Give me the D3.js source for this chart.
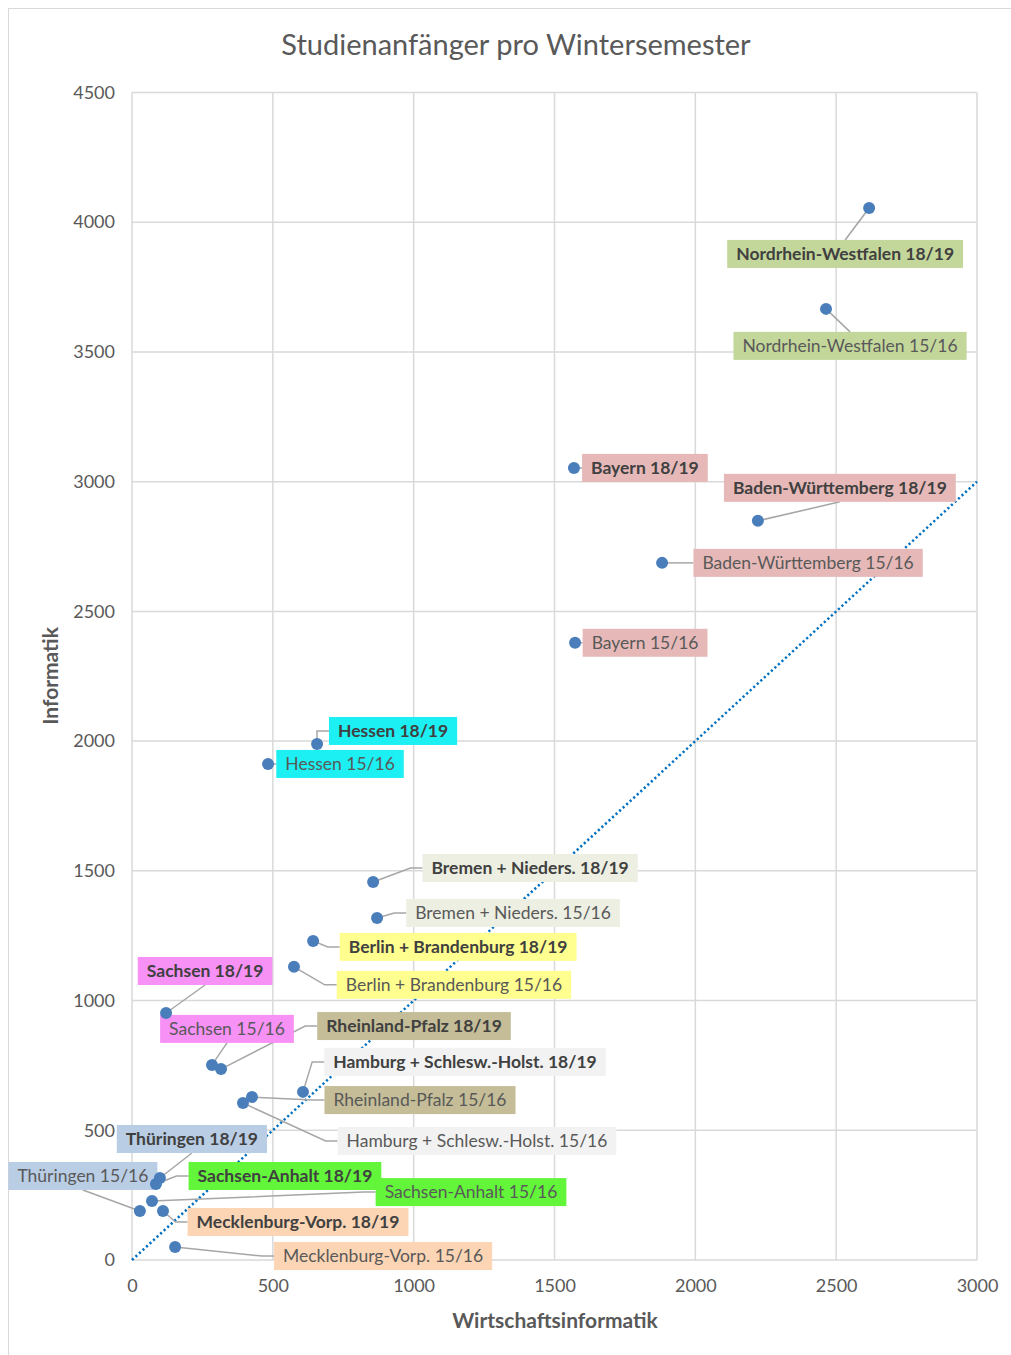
<!DOCTYPE html>
<html>
<head>
<meta charset="utf-8">
<script src="https://cdn.jsdelivr.net/npm/d3@7"></script>
<style>
  body { margin: 0; background: #fff; }
  svg { display: block; font-family: Lato, "Open Sans", sans-serif; }
</style>
</head>
<body>
<div class="visHolder"></div>
<script>
// data
const names = [
  'Nordrhein-Westfalen 18/19', 'Nordrhein-Westfalen 15/16',
  'Bayern 18/19', 'Baden-Württemberg 18/19', 'Baden-Württemberg 15/16', 'Bayern 15/16',
  'Hessen 18/19', 'Hessen 15/16',
  'Bremen + Nieders. 18/19', 'Bremen + Nieders. 15/16',
  'Berlin + Brandenburg 18/19', 'Berlin + Brandenburg 15/16',
  'Sachsen 18/19', 'Sachsen 15/16',
  'Rheinland-Pfalz 18/19', 'Hamburg + Schlesw.-Holst. 18/19',
  'Rheinland-Pfalz 15/16', 'Hamburg + Schlesw.-Holst. 15/16',
  'Thüringen 18/19', 'Thüringen 15/16',
  'Sachsen-Anhalt 18/19', 'Sachsen-Anhalt 15/16',
  'Mecklenburg-Vorp. 18/19', 'Mecklenburg-Vorp. 15/16'
];
const wirtschaftsinformatik = [2617, 2464, 1569, 2222, 1882, 1573, 657, 483, 856, 870, 643, 575,
  121, 284, 316, 607, 426, 394, 99, 28, 85, 71, 110, 153];
const informatik = [4055, 3666, 3053, 2849, 2687, 2379, 1989, 1912, 1457, 1318, 1230, 1130,
  952, 752, 736, 648, 628, 605, 316, 189, 293, 227, 189, 50];
const xTicks = [0, 500, 1000, 1500, 2000, 2500, 3000];
const yTicks = [0, 500, 1000, 1500, 2000, 2500, 3000, 3500, 4000, 4500];

// label layout: offset of box centre from the point (px), where the leader meets the box, fill
const labelDx = [-24, 24, 71, 82, 146, 70, 76, 72, 157, 136, 145, 160, 39, 15, 193, 162, 168, 234, 32, -57, 129, 319, 135, 208];
const labelDy = [46, 37, 0, -33, 0, 0, -13, 0, -14, -5, 6, 18, -42, -36, -43, -30, 3, 38, -39, -35, -8, -9, 11, 9];
const labelSide = ['top', 'top', 'left', 'bottom', 'left', 'left', 'left', 'left', 'left', 'left', 'left', 'left',
  'bottom', 'bottom', 'left', 'left', 'left', 'left', 'bottom', 'bottom', 'left', 'left', 'left', 'left'];
const labelFill = ['#c4d79b', '#c4d79b', '#e6b9b8', '#e6b9b8', '#e6b9b8', '#e6b9b8', '#1cf0f2', '#1cf0f2',
  '#ecefe2', '#ecefe2', '#ffff8f', '#ffff8f', '#f791f5', '#f791f5', '#c4bd97', '#f2f2f2', '#c4bd97', '#f2f2f2',
  '#b9cde5', '#b9cde5', '#62f53a', '#62f53a', '#fcd5b5', '#fcd5b5'];

const w = 1011, h = 1355;
const svg = d3.select('.visHolder').append('svg').attr('width', w).attr('height', h);

svg.append('rect').attr('x', 8.5).attr('y', 8.5).attr('width', w).attr('height', h)
  .attr('fill', '#fff').attr('stroke', '#d9d9d9');

const xScale = d3.scaleLinear().domain([0, 3000]).range([132, 977]);
const yScale = d3.scaleLinear().domain([0, 4500]).range([1260, 92.5]);

// grid
svg.append('g').selectAll('line').data(xTicks).enter().append('line')
  .attr('x1', d => xScale(d)).attr('x2', d => xScale(d))
  .attr('y1', yScale(0)).attr('y2', yScale(4500))
  .attr('stroke', '#d9d9d9').attr('stroke-width', 1.5);
svg.append('g').selectAll('line').data(yTicks).enter().append('line')
  .attr('x1', xScale(0)).attr('x2', xScale(3000))
  .attr('y1', d => yScale(d)).attr('y2', d => yScale(d))
  .attr('stroke', '#d9d9d9').attr('stroke-width', 1.5);

// axes (labels only, Excel style)
const xAxis = svg.append('g').attr('transform', `translate(0, ${yScale(0)})`)
  .call(d3.axisBottom(xScale).tickValues(xTicks).tickSize(0).tickPadding(19).tickFormat(d3.format('d')));
const yAxis = svg.append('g').attr('transform', `translate(${xScale(0)}, 0)`)
  .call(d3.axisLeft(yScale).tickValues(yTicks).tickSize(0).tickPadding(17).tickFormat(d3.format('d')));
[xAxis, yAxis].forEach(a => {
  a.select('.domain').remove();
  a.selectAll('text').attr('fill', '#595959').style('font-size', '18px').style('font-family', 'Lato, sans-serif');
});

// diagonal x = y
svg.append('line')
  .attr('x1', xScale(0)).attr('y1', yScale(0))
  .attr('x2', xScale(3000)).attr('y2', yScale(3000))
  .attr('stroke', '#0070c0').attr('stroke-width', 2.5)
  .attr('stroke-dasharray', '2.2,2.6');

// titles
svg.append('text').attr('x', 516).attr('y', 55).attr('text-anchor', 'middle')
  .attr('fill', '#595959').style('font-size', '29px')
  .text('Studienanfänger pro Wintersemester');
svg.append('text').attr('x', 555).attr('y', 1328).attr('text-anchor', 'middle')
  .attr('fill', '#595959').style('font-size', '21px').style('font-weight', 'bold')
  .text('Wirtschaftsinformatik');
svg.append('text').attr('transform', 'translate(58, 676) rotate(-90)').attr('text-anchor', 'middle')
  .attr('fill', '#595959').style('font-size', '21px').style('font-weight', 'bold')
  .text('Informatik');

const points = names.map((n, i) => ({
  name: n, x: wirtschaftsinformatik[i], y: informatik[i],
  dx: labelDx[i], dy: labelDy[i], side: labelSide[i], fill: labelFill[i],
  bold: n.endsWith('18/19')
}));

const leaders = svg.append('g');
const boxes = svg.append('g');

points.forEach(p => {
  const px = xScale(p.x), py = yScale(p.y);
  const cx = px + p.dx, cy = py + p.dy;
  const g = boxes.append('g');
  const t = g.append('text').attr('x', cx).attr('y', cy).attr('dy', '0.36em')
    .attr('text-anchor', 'middle')
    .attr('fill', p.bold ? '#404040' : '#595959')
    .style('font-size', '17.5px').style('font-weight', p.bold ? 'bold' : 'normal')
    .text(p.name);
  const bw = t.node().getComputedTextLength() + 18, bh = 28;
  g.insert('rect', 'text').attr('x', cx - bw / 2).attr('y', cy - bh / 2)
    .attr('width', bw).attr('height', bh).attr('fill', p.fill);

  let pts;
  if (p.side === 'left') {
    const ax = cx - bw / 2;
    pts = [[px, py], [ax - 12, cy], [ax, cy]];
  } else if (p.side === 'top') {
    pts = [[px, py], [cx, cy - bh / 2]];
  } else {
    pts = [[px, py], [cx, cy + bh / 2]];
  }
  leaders.append('path').attr('d', d3.line()(pts))
    .attr('fill', 'none').attr('stroke', '#a6a6a6').attr('stroke-width', 1.5);
});

svg.append('g').selectAll('circle').data(points).enter().append('circle')
  .attr('cx', d => xScale(d.x)).attr('cy', d => yScale(d.y)).attr('r', 6)
  .attr('fill', '#4a7ebb');
</script>
</body>
</html>
